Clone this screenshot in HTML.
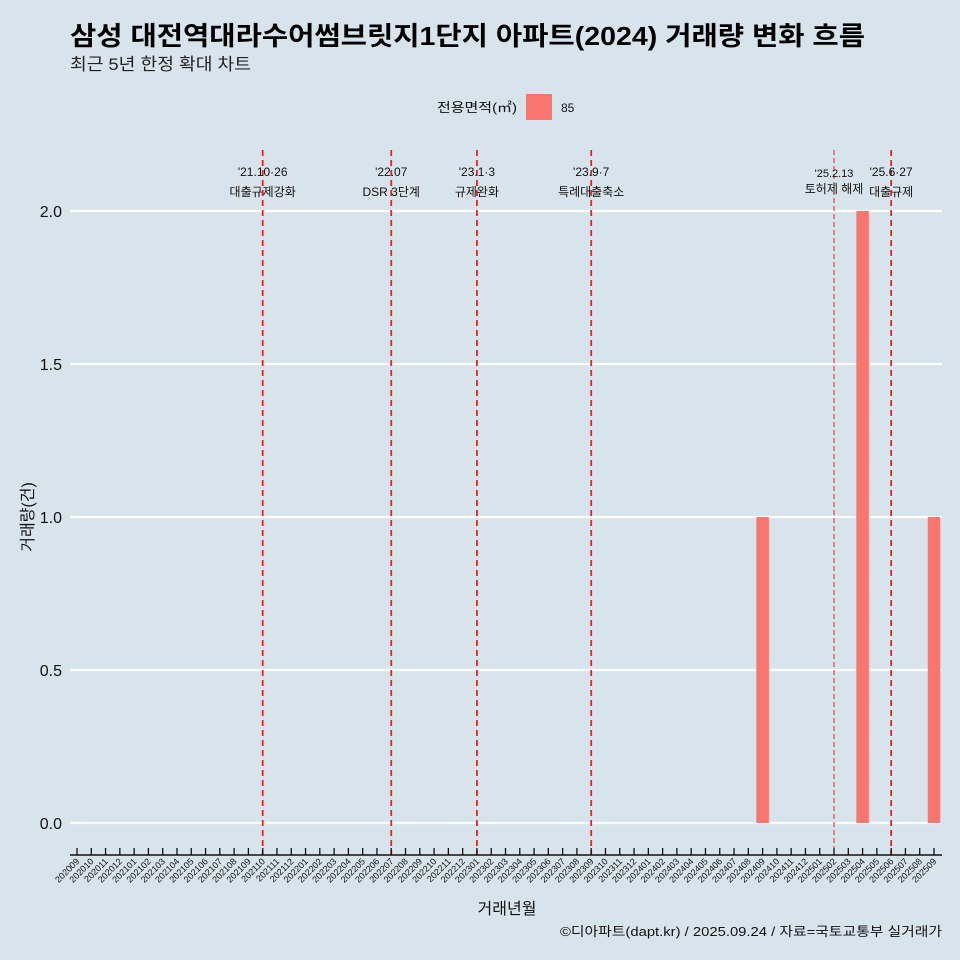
<!DOCTYPE html>
<html><head><meta charset="utf-8">
<style>
body{margin:0;background:#d7e4eb;}
svg{display:block;font-family:"Liberation Sans","Noto Sans CJK KR",sans-serif;}
</style></head>
<body>
<svg id="chart" width="960" height="960">
<rect width="960" height="960" fill="#d7e4eb"/>
<text x="70" y="45" font-size="26" font-weight="bold" fill="#000" textLength="795" lengthAdjust="spacingAndGlyphs">삼성 대전역대라수어썸브릿지1단지 아파트(2024) 거래량 변화 흐름</text>
<text x="70" y="70" font-size="17" fill="#222" textLength="181" lengthAdjust="spacingAndGlyphs">최근 5년 한정 확대 차트</text>
<g>
<text x="517" y="112" font-size="13" text-anchor="end" fill="#111" textLength="80" lengthAdjust="spacingAndGlyphs">전용면적(㎡)</text>
<rect x="526" y="94" width="26" height="26" fill="#f8766d"/>
<text x="561" y="112" font-size="12" fill="#111">85</text>
</g>
<g id="grid"></g><g id="vlines"></g><g id="bars"></g><g id="xaxis"></g><g id="yaxis"></g>
<text transform="translate(33,517) rotate(-90)" font-size="16" text-anchor="middle" fill="#111">거래량(건)</text>
<text x="507" y="914" font-size="16" text-anchor="middle" fill="#111">거래년월</text>
<text x="560" y="936" font-size="13" fill="#111" textLength="382" lengthAdjust="spacingAndGlyphs">©디아파트(dapt.kr) / 2025.09.24 / 자료=국토교통부 실거래가</text>
</svg>
<script>
const categories=[];for(let y=2020;y<=2025;y++)for(let m=1;m<=12;m++){const k=y*100+m;if(k>=202009&&k<=202509)categories.push(String(k));}
const barMonths=["202409","202504","202509"];
const barValues=[1,2,1];
const yTicks=[0,0.5,1,1.5,2];
const yTickLabels=["0.0","0.5","1.0","1.5","2.0"];
const eventMonths=["202110","202207","202301","202309","202502","202506"];
const eventDates=["'21.10·26","'22.07","'23.1·3","'23.9·7","'25.2.13","'25.6·27"];
const eventLabels=["대출규제강화","DSR 3단계","규제완화","특례대출축소","토허제 해제","대출규제"];
const eventThin=[false,false,false,false,true,false];
const NS="http://www.w3.org/2000/svg";
const x=c=>77+categories.indexOf(c)*(934-77)/(categories.length-1);
const y=v=>823-v*306;
function mk(tag,attrs,parent,text){const e=document.createElementNS(NS,tag);for(const k in attrs)e.setAttribute(k,attrs[k]);if(text!==undefined)e.textContent=text;document.getElementById(parent).appendChild(e);return e;}
yTicks.forEach((t,i)=>{
 let l=mk('line',{x1:70,x2:942,y1:y(t),y2:y(t),stroke:'#fff','stroke-width':2.2},'grid');
 
 
 let tx=mk('text',{x:62,y:y(t)+6,'font-size':16,'text-anchor':'end',fill:'#111'},'yaxis',yTickLabels[i]);
 
 
});
eventMonths.forEach((m,i)=>{
 const xx=x(m);
 let l=mk('line',{x1:xx,x2:xx,y1:150,y2:855,stroke:'#e8231f','stroke-width':eventThin[i]?1:1.8,'stroke-dasharray':eventThin[i]?'5,3':'6,4'},'vlines');
 
 
 let d=mk('text',{x:xx,y:eventThin[i]?177:176,'font-size':eventThin[i]?11:12,'text-anchor':'middle',fill:'#111'},'vlines',eventDates[i]);
 
 
 let t=mk('text',{x:xx,y:eventThin[i]?193:196,'font-size':12,'text-anchor':'middle',fill:'#111'},'vlines',eventLabels[i]);
 
 
});
barMonths.forEach((m,i)=>{
 const w=12.5;
 let r=mk('rect',{x:x(m)-w/2,y:y(barValues[i]),width:w,height:y(0)-y(barValues[i]),fill:'#f8766d'},'bars');
 
 
});
let ax=mk('line',{x1:70,x2:942,y1:855,y2:855,stroke:'#111','stroke-width':1.5},'xaxis');


categories.forEach(c=>{
 const xx=x(c);
 let t=mk('line',{x1:xx,x2:xx,y1:848,y2:855,stroke:'#111','stroke-width':1.3},'xaxis');
 
 
 let l=mk('text',{transform:`translate(${xx+3},${862}) rotate(-45)`,'font-size':9,'text-anchor':'end',fill:'#111'},'xaxis',c);
 
 
});
</script>
</body></html>
